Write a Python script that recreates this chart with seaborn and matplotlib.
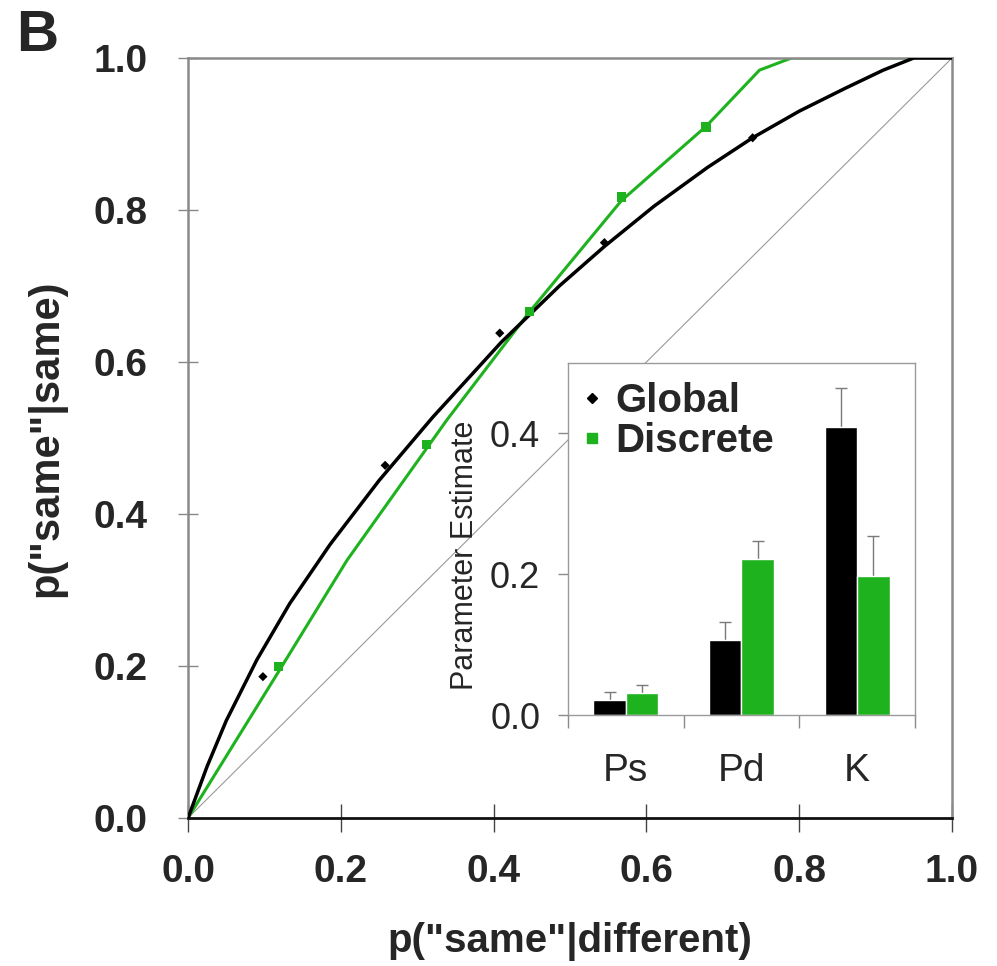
import matplotlib
matplotlib.use("Agg")
import matplotlib.pyplot as plt
from matplotlib.lines import Line2D
import numpy as np
import pandas as pd
import seaborn as sns

# ROC data: observed points and model fits
global_x = [0.098, 0.258, 0.408, 0.545, 0.739]
global_y = [0.186, 0.464, 0.638, 0.757, 0.895]
discrete_x = [0.118, 0.312, 0.447, 0.567, 0.678]
discrete_y = [0.199, 0.491, 0.666, 0.817, 0.909]

global_fit_x = [0.0, 0.025, 0.05, 0.09, 0.133, 0.186, 0.25, 0.32, 0.41, 0.486,
                0.545, 0.61, 0.68, 0.739, 0.80, 0.86, 0.91, 0.95, 1.0]
global_fit_y = [0.0, 0.068, 0.128, 0.208, 0.282, 0.360, 0.444, 0.527, 0.626, 0.700,
                0.752, 0.805, 0.856, 0.895, 0.930, 0.960, 0.984, 1.0, 1.0]
discrete_fit_x = [0.0, 0.120, 0.208, 0.339, 0.447, 0.567, 0.678, 0.748, 0.790, 1.0]
discrete_fit_y = [0.0, 0.195, 0.339, 0.524, 0.666, 0.812, 0.910, 0.984, 1.0, 1.0]

# Parameter estimates (inset)
params = ["Ps", "Pd", "K"]
global_est = [0.022, 0.106, 0.409]
global_err = [0.011, 0.026, 0.056]
discrete_est = [0.031, 0.221, 0.197]
discrete_err = [0.012, 0.026, 0.058]

models = ["Global", "Discrete"]
BLACK = "#000000"
GREEN = "#1fb21f"

sns.set_theme(style="white")
plt.rcParams["font.family"] = ["Liberation Sans", "DejaVu Sans"]

fig = plt.figure(figsize=(9.97, 9.66), dpi=100)
ax = fig.add_axes([0.1886, 0.1532, 0.7663, 0.7868])

ax.plot([0, 1], [0, 1], color="#9a9a9a", lw=0.8, zorder=1)
sns.lineplot(x=discrete_fit_x, y=discrete_fit_y, sort=False, estimator=None,
             color=GREEN, lw=2.2, ax=ax, zorder=2)
sns.lineplot(x=global_fit_x, y=global_fit_y, sort=False, estimator=None,
             color=BLACK, lw=2.5, ax=ax, zorder=3)
sns.scatterplot(x=discrete_x, y=discrete_y, marker="s", s=45, color=GREEN,
                edgecolor="none", ax=ax, zorder=4)
sns.scatterplot(x=global_x, y=global_y, marker="D", s=22, color=BLACK,
                edgecolor="none", ax=ax, zorder=4)

ax.set_xlim(0, 1)
ax.set_ylim(0, 1)
ticks = [0.0, 0.2, 0.4, 0.6, 0.8, 1.0]
ax.set_xticks(ticks)
ax.set_yticks(ticks)
ax.set_xticklabels([f"{t:.1f}" for t in ticks])
ax.set_yticklabels([f"{t:.1f}" for t in ticks])
for lab in ax.get_xticklabels() + ax.get_yticklabels():
    lab.set_fontweight("bold")
    lab.set_fontsize(28)
ax.tick_params(axis="x", direction="inout", length=20, width=1.0, color="#444444",
               pad=16, bottom=True)
ax.tick_params(axis="y", direction="inout", length=14, width=1.0, color="#888888",
               pad=22, left=True)
for side in ["left", "top", "right"]:
    ax.spines[side].set_color("#8a8a8a")
    ax.spines[side].set_linewidth(1.8)
ax.spines["bottom"].set_color("#111111")
ax.spines["bottom"].set_linewidth(2.0)
ax.set_xlabel('p("same"|different)', fontsize=29, fontweight="bold", labelpad=23)
ax.set_ylabel('p("same"|same)', fontsize=30, fontweight="bold", labelpad=20)

fig.text(0.016, 0.991, "B", fontsize=42, fontweight="bold", va="top", ha="left")

# Inset bar chart
ins = fig.add_axes([0.5697, 0.2598, 0.3480, 0.3644])
ins.set_facecolor("white")
df = pd.DataFrame({
    "param": params * 2,
    "value": global_est + discrete_est,
    "model": [models[0]] * 3 + [models[1]] * 3,
})
sns.barplot(data=df, x="param", y="value", hue="model", order=params,
            hue_order=models, palette=[BLACK, GREEN], saturation=1,
            width=0.56, errorbar=None, legend=False, ax=ins, zorder=2)
for cont, errs in zip(ins.containers, [global_err, discrete_err]):
    xs = [b.get_x() + b.get_width() / 2 for b in cont]
    hs = [b.get_height() for b in cont]
    ins.errorbar(xs, hs, yerr=errs, fmt="none", ecolor="#7a7a7a",
                 elinewidth=1.0, capsize=4, capthick=1.0, zorder=1)

ins.set_xlim(-0.5, 2.5)
ins.set_ylim(0, 0.5)
ins.set_yticks([0.0, 0.2, 0.4])
ins.set_yticklabels(["0.0", "0.2", "0.4"], fontsize=26)
ins.set_xticks([0, 1, 2])
ins.set_xticklabels(params, fontsize=28)
ins.set_xticks([-0.5, 0.5, 1.5, 2.5], minor=True)
ins.tick_params(axis="x", which="major", length=0, pad=27)
ins.tick_params(axis="x", which="minor", direction="out", length=9, width=1.0,
                color="#8a8a8a", bottom=True)
ins.tick_params(axis="y", direction="out", length=7, width=1.0, color="#8a8a8a",
                pad=13, left=True)
ins.set_xlabel("")
ins.set_ylabel("Parameter Estimate", fontsize=22)
ins.yaxis.set_label_coords(-0.255, 0.455)
for side in ins.spines:
    ins.spines[side].set_color("#9a9a9a")
    ins.spines[side].set_linewidth(1.0)

handles = [
    Line2D([], [], ls="none", marker="D", markersize=5, color=BLACK),
    Line2D([], [], ls="none", marker="s", markersize=7, color=GREEN),
]
leg = ins.legend(handles, models, loc="upper left", bbox_to_anchor=(0.0, 0.958),
                 frameon=False, handlelength=1.0, handletextpad=0.07,
                 labelspacing=0.05, borderaxespad=0.0, borderpad=0.1,
                 prop={"size": 29, "weight": "bold"})

fig.savefig("out.png", dpi=100, facecolor="white")
